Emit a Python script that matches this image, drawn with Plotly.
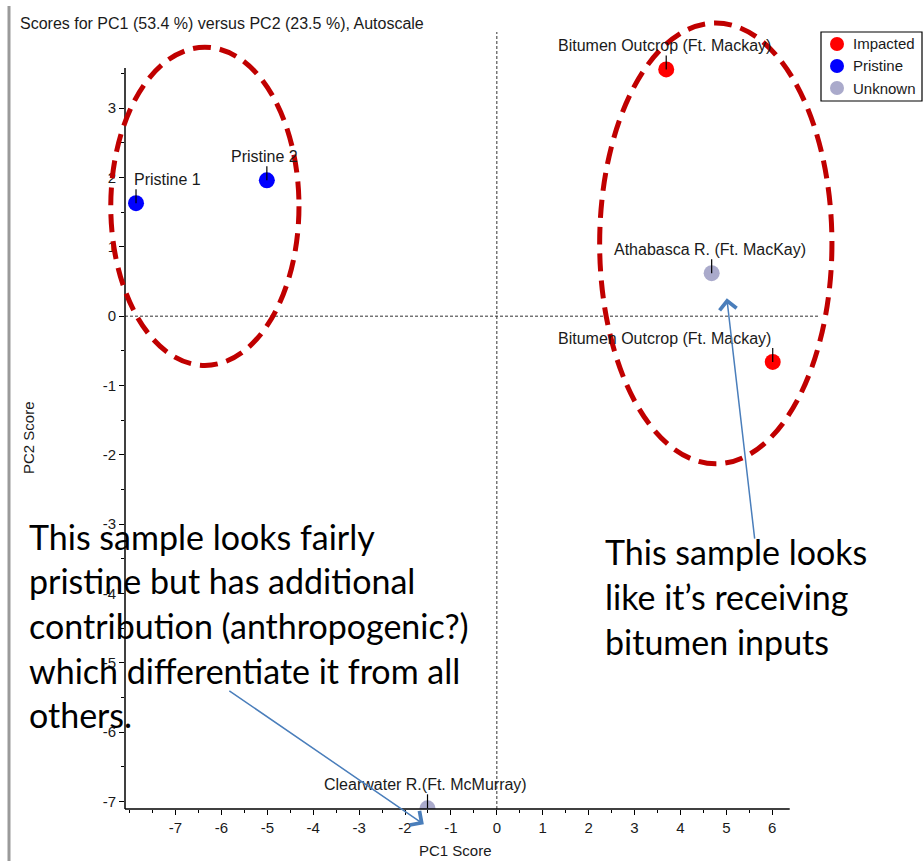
import plotly.graph_objects as go

# ---------------- data ----------------
impacted_x = [3.69, 6.01]
impacted_y = [3.56, -0.66]
impacted_labels = ["Bitumen Outcrop (Ft. Mackay)", "Bitumen Outcrop (Ft. Mackay)"]

pristine_x = [-7.86, -5.01]
pristine_y = [1.63, 1.96]
pristine_labels = ["Pristine 1", "Pristine 2"]

unknown_x = [4.68, -1.51]
unknown_y = [0.62, -7.10]
unknown_labels = ["Athabasca R. (Ft. MacKay)", "Clearwater R.(Ft. McMurray)"]

x_major = [-7, -6, -5, -4, -3, -2, -1, 0, 1, 2, 3, 4, 5, 6]
y_major = [-7, -6, -5, -4, -3, -2, -1, 0, 1, 2, 3]

groups = ["Impacted", "Pristine", "Unknown"]
group_colors = ["#ff0000", "#0000ff", "#aaaacb"]

# ellipses (data units): x0, x1, y0, y1
ellipses = [(-8.41, -4.31, -0.71, 3.88), (2.24, 7.30, -2.13, 4.23)]

# arrows: (tail_x, tail_y, head_x, head_y)
arrows = [(-5.86, -5.39, -1.59, -7.33), (5.62, -3.23, 5.01, 0.26)]

left_note = ["This sample looks fairly", "pristine but has additional",
             "contribution (anthropogenic?)", "which differentiate it from all",
             "others."]
right_note = ["This sample looks", "like it\u2019s receiving", "bitumen inputs"]

# ---------------- layout geometry ----------------
W, H = 923, 861
ML, MR, MT, MB = 125, 103, 32, 52
PW, PH = W - ML - MR, H - MT - MB
XR = [-8.10, 7.04]
YR = [-7.11, 4.10]


def xpaper(v):
    return (v - XR[0]) / (XR[1] - XR[0])


def ypaper(v):
    return (v - YR[0]) / (YR[1] - YR[0])


def px_x(p):
    return (p - ML) / PW


def px_y(p):
    return (H - MB - p) / PH


FONT = "Liberation Sans, Arial, sans-serif"
TXT = "#1a1a1a"

fig = go.Figure()
for name, xs, ys, col in zip(groups, [impacted_x, pristine_x, unknown_x],
                             [impacted_y, pristine_y, unknown_y], group_colors):
    fig.add_trace(go.Scatter(x=xs, y=ys, mode="markers", name=name,
                             marker=dict(size=16, color=col, line=dict(width=0)),
                             cliponaxis=True, showlegend=False))

shapes = []
annotations = []

# zero reference lines
shapes.append(dict(type="line", xref="x", yref="paper", x0=0, x1=0, y0=0, y1=1,
                   line=dict(color="#333333", width=1, dash="3px,2px")))
shapes.append(dict(type="line", xref="paper", yref="y", x0=0, x1=1, y0=0, y1=0,
                   line=dict(color="#333333", width=1, dash="3px,2px")))

# axis lines
shapes.append(dict(type="line", xref="paper", yref="paper", x0=0, x1=xpaper(6.38),
                   y0=0, y1=0, line=dict(color="black", width=1.5)))
shapes.append(dict(type="line", xref="paper", yref="paper", x0=0, x1=0,
                   y0=0, y1=ypaper(3.58), line=dict(color="black", width=1.5)))

# left window border
shapes.append(dict(type="line", xref="paper", yref="paper", x0=px_x(9), x1=px_x(9),
                   y0=px_y(6), y1=px_y(861), line=dict(color="#9a9a9a", width=3)))

# point labels with leader ticks
label_specs = []
for xs, ys, labs in [(impacted_x, impacted_y, impacted_labels),
                     (pristine_x, pristine_y, pristine_labels),
                     (unknown_x, unknown_y, unknown_labels)]:
    for x, y, t in zip(xs, ys, labs):
        label_specs.append((x, y, t))

for (x, y, t) in label_specs:
    xa, xs_ = "center", -2
    if t == "Pristine 1":
        xa, xs_ = "left", -4
    if t.startswith("Bitumen") and x > 5:
        xa, xs_ = "right", 0
    shapes.append(dict(type="line", xref="x", yref="y", xsizemode="pixel",
                       ysizemode="pixel", xanchor=x, yanchor=y, x0=0, x1=0, y0=0, y1=14,
                       line=dict(color="black", width=1.2)))
    annotations.append(dict(x=x, y=y, xref="x", yref="y", text=t, showarrow=False,
                            xanchor=xa, yanchor="bottom", xshift=xs_, yshift=13,
                            font=dict(family=FONT, size=16, color=TXT)))

# ellipses
for (x0, x1, y0, y1) in ellipses:
    shapes.append(dict(type="circle", xref="paper", yref="paper",
                       x0=xpaper(x0), x1=xpaper(x1), y0=ypaper(y0), y1=ypaper(y1),
                       line=dict(color="#c00000", width=5, dash="18px,9px")))

# arrows
for (tx, ty, hx, hy) in arrows:
    annotations.append(dict(x=hx, y=hy, ax=tx, ay=ty, xref="x", yref="y",
                            axref="x", ayref="y", text="", showarrow=True,
                            arrowhead=4, arrowsize=2.2, arrowwidth=1.5,
                            arrowcolor="#4a7ebb", standoff=0))

# big notes
NOTE_FONT = dict(family="Lato, Carlito, sans-serif", size=34, color="black")
for i, line in enumerate(left_note):
    annotations.append(dict(x=px_x(27), y=px_y(536 + i * 44.7), xref="paper", yref="paper",
                            text=line, showarrow=False, xanchor="left", yanchor="middle",
                            font=NOTE_FONT))
for i, line in enumerate(right_note):
    annotations.append(dict(x=px_x(603), y=px_y(552 + i * 44.5), xref="paper", yref="paper",
                            text=line, showarrow=False, xanchor="left", yanchor="middle",
                            font=NOTE_FONT))

# manual legend (box, symbols, texts)
LEG_L, LEG_R, LEG_T, LEG_B = 821, 922, 32, 101
shapes.append(dict(type="rect", xref="paper", yref="paper",
                   x0=px_x(LEG_L), x1=px_x(LEG_R), y0=px_y(LEG_B), y1=px_y(LEG_T),
                   line=dict(color="black", width=1.2), fillcolor="white", layer="above"))
for i, (g, c) in enumerate(zip(groups, group_colors)):
    cy = 44 + 22 * i
    shapes.append(dict(type="circle", xref="paper", yref="paper",
                       x0=px_x(830), x1=px_x(844), y0=px_y(cy + 7), y1=px_y(cy - 7),
                       line=dict(width=0), fillcolor=c, layer="above"))
    annotations.append(dict(x=px_x(851), y=px_y(cy), xref="paper", yref="paper",
                            text=g, showarrow=False, xanchor="left", yanchor="middle",
                            font=dict(family=FONT, size=15, color=TXT)))

# title & axis titles
annotations.append(dict(x=px_x(18), y=px_y(23), xref="paper", yref="paper",
                        text="Scores for PC1 (53.4 %) versus PC2 (23.5 %), Autoscale",
                        showarrow=False, xanchor="left", yanchor="middle",
                        font=dict(family=FONT, size=16, color=TXT)))
annotations.append(dict(x=px_x(455), y=px_y(850), xref="paper", yref="paper",
                        text="PC1 Score", showarrow=False, xanchor="center",
                        yanchor="middle", font=dict(family=FONT, size=15, color=TXT)))
annotations.append(dict(x=px_x(28), y=px_y(438), xref="paper", yref="paper",
                        text="PC2 Score", showarrow=False, xanchor="center",
                        yanchor="middle", textangle=-90,
                        font=dict(family=FONT, size=15, color=TXT)))

x_minor = [v / 2 for v in range(-16, 13) if v % 2 != 0] + [-8]
y_minor = [v / 2 for v in range(-14, 8) if v % 2 != 0]

fig.update_layout(
    width=W, height=H,
    margin=dict(l=ML, r=MR, t=MT, b=MB, autoexpand=False),
    paper_bgcolor="white", plot_bgcolor="white",
    shapes=shapes, annotations=annotations,
    showlegend=False,
    xaxis=dict(range=XR, showgrid=False, zeroline=False, showline=False,
               tickmode="array", tickvals=x_major,
               ticktext=[str(v) for v in x_major],
               ticks="outside", ticklen=5, tickcolor="black", tickwidth=1,
               tickfont=dict(family=FONT, size=15, color=TXT),
               minor=dict(tickmode="array", tickvals=x_minor, ticks="outside",
                          ticklen=3, tickcolor="black", showgrid=False)),
    yaxis=dict(range=YR, showgrid=False, zeroline=False, showline=False,
               tickmode="array", tickvals=y_major,
               ticktext=[str(v) for v in y_major],
               ticks="outside", ticklen=5, tickcolor="black", tickwidth=1,
               tickfont=dict(family=FONT, size=15, color=TXT),
               minor=dict(tickmode="array", tickvals=y_minor, ticks="outside",
                          ticklen=3, tickcolor="black", showgrid=False)),
)

fig.write_html("out.html")
